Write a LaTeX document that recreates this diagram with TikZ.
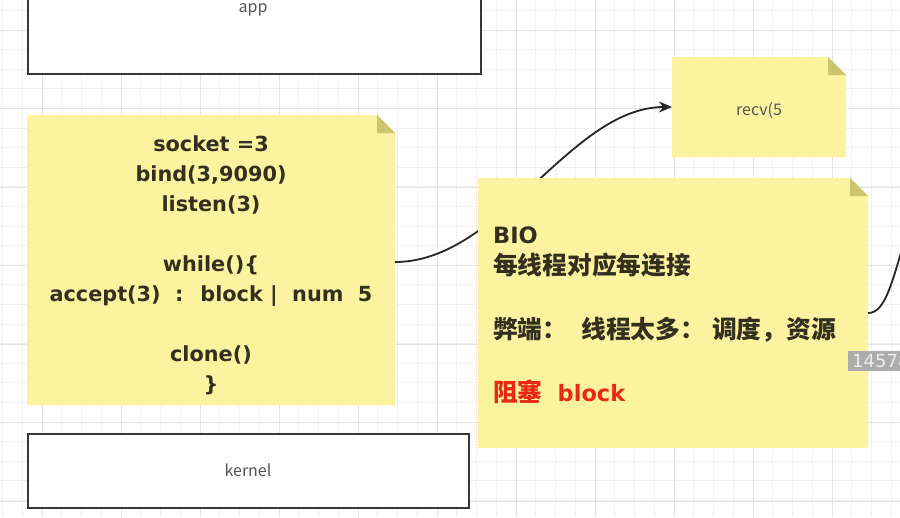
\documentclass[tikz,border=0pt]{standalone}
\usepackage{fontspec}
\setmainfont{Noto Sans CJK SC}
\newfontfamily\latinb{DejaVu Sans}
\newfontfamily\cjkb{Noto Sans CJK SC}
\usetikzlibrary{arrows.meta}
\definecolor{noteyellow}{RGB}{252,243,160}
\definecolor{notefold}{RGB}{205,196,112}
\definecolor{notetxt}{RGB}{52,48,32}
\definecolor{redtxt}{RGB}{232,42,20}
\definecolor{gridminor}{RGB}{240,240,243}
\definecolor{gridmajor}{RGB}{228,228,232}
\definecolor{boxline}{RGB}{55,55,55}
\definecolor{boxtxt}{RGB}{85,85,85}
\definecolor{tipfill}{RGB}{172,172,172}
\definecolor{tiptxt}{RGB}{236,236,236}
\newcommand\drawnotecard[1]{%
  \fill[noteyellow] (#1.south west) -- (#1.north west) -- ([xshift=-18pt]#1.north east)
     -- ([yshift=-18pt]#1.north east) -- (#1.south east) -- cycle;
  \fill[notefold] ([xshift=-18pt]#1.north east) -- ([xshift=-18pt,yshift=-18pt]#1.north east)
     -- ([yshift=-18pt]#1.north east) -- cycle;}
\tikzset{
  frame/.style={draw=none,inner sep=0pt,outer sep=0pt,anchor=north west},
  layerbox/.style={draw=boxline,line width=2.2pt,fill=white,inner sep=0pt,anchor=north west},
  layertxt/.style={text=boxtxt,font=\fontsize{16}{18}\selectfont,anchor=base,inner sep=0pt},
  codetxt/.style={text=notetxt,font=\latinb\fontsize{20.8}{24}\selectfont\bfseries,anchor=base,inner sep=0pt},
  biotxt/.style={text=notetxt,font=\fontsize{24.75}{28}\selectfont\bfseries,anchor=base west,inner sep=0pt},
  link/.style={draw=black!85,line width=1.8pt},
}
\newcommand\lat[1]{{\latinb\fontsize{22.5}{28}\selectfont\bfseries #1}}
\begin{document}
\begin{tikzpicture}[x=1pt,y=-1pt]
\useasboundingbox (0,0) rectangle (900,517);
\clip (0,0) rectangle (900,517);
\fill[white] (0,0) rectangle (900,517);
% grid
\foreach \i in {0,...,46} {\draw[gridminor,line width=0.8pt] (2.5+19.75*\i,0) -- (2.5+19.75*\i,517);}
\foreach \i in {0,...,27} {\draw[gridminor,line width=0.8pt] (0,-9.2+19.6*\i) -- (900,-9.2+19.6*\i);}
\foreach \i in {0,...,11} {\draw[gridmajor,line width=0.9pt] (42+79*\i,0) -- (42+79*\i,517);}
\foreach \i in {0,...,6} {\draw[gridmajor,line width=0.9pt] (0,30+78.5*\i) -- (900,30+78.5*\i);}

% layer boxes
\node[layerbox,minimum width=453pt,minimum height=85pt] (app) at (27,-12) {};
\node[layertxt] (apptext) at (253,12.5) {app};
\node[layerbox,minimum width=441pt,minimum height=74pt] (kernel) at (27,433) {};
\node[layertxt] (kerneltext) at (248,476.5) {kernel};

% note frames
\node[frame,minimum width=368pt,minimum height=290pt] (code) at (27,115) {};
\node[frame,minimum width=174pt,minimum height=100pt] (recv) at (672,57) {};
\node[frame,minimum width=390pt,minimum height=270pt] (bio) at (478,178) {};
\coordinate (offR) at (910,222);

\drawnotecard{code}
\drawnotecard{recv}

% connector from code note to recv note (passes behind BIO note)
\draw[link,-{Stealth[length=13pt,width=11pt]}] (code.east |- 0,262) .. controls (500,262) and (570,107) .. (recv.west |- 0,107);

\drawnotecard{bio}
\draw[link] (bio.east |- 0,313) .. controls (886,313) and (892,282) .. (offR);

% code text
\node[codetxt] (l1) at (211,151) {socket =3};
\node[codetxt] (l2) at (211,181) {bind(3,9090)};
\node[codetxt] (l3) at (211,211) {listen(3)};
\node[codetxt] (l4) at (211,271) {while()\{};
\node[codetxt] (l5) at (211,301) {accept(3) \ : \ block | \ num \ 5};
\node[codetxt] (l6) at (211,361) {clone()};
\node[codetxt] (l7) at (211,391) {\}};

\node[text=boxtxt,font=\fontsize{16}{18}\selectfont,anchor=base,inner sep=0pt] (recvtext) at (759,115) {recv(5};

% BIO text
\node[biotxt] (b1) at (493,243) {\lat{BIO}};
\node[biotxt] (b2) at (493,274.5) {每线程对应每连接};
\node[biotxt] (b3) at (493,338) {弊端：\hspace{14pt}线程太多：\hspace{7pt}调度，资源};
\node[biotxt,text=redtxt] (b4) at (493,401) {阻塞\hspace{15pt}\lat{block}};

% tooltip
\node[fill=tipfill,anchor=north west,inner xsep=4pt,inner ysep=0pt,minimum height=20pt,text=tiptxt,font=\latinb\fontsize{18}{19}\selectfont] (tip) at (848,351) {14578};
\end{tikzpicture}
\end{document}
